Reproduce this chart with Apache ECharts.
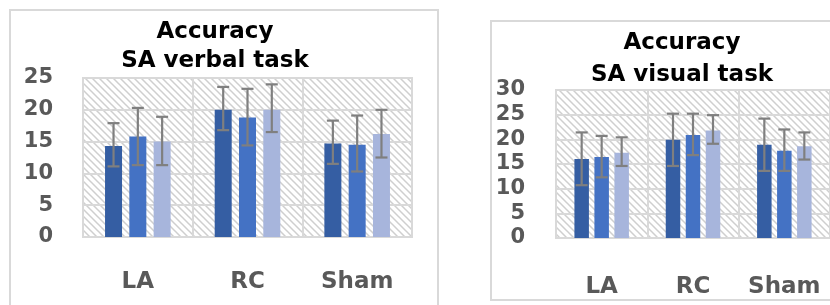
<!DOCTYPE html>
<html>
<head>
<meta charset="utf-8">
<script src="https://cdn.jsdelivr.net/npm/echarts@6/dist/echarts.min.js"></script>
<style>
  html, body { margin: 0; padding: 0; background: #fff; }
  #main { width: 830px; height: 305px; }
</style>
</head>
<body>
<div id="main"></div>
<script>
// categories and values
const categories = ['LA', 'RC', 'Sham'];
const seriesNames = ['Group 1', 'Group 2', 'Group 3'];

// SA verbal task
const verbalMean = [[14.3, 20.0, 14.7], [15.8, 18.8, 14.5], [15.0, 20.0, 16.2]];
const verbalLow  = [[11.1, 16.8, 11.5], [11.3, 14.4, 10.3], [11.3, 16.5, 12.5]];
const verbalHigh = [[17.9, 23.6, 18.3], [20.3, 23.3, 19.1], [18.9, 24.0, 20.0]];
const verbalTicks = { max: 25, interval: 5 };

// SA visual task
const visualMean = [[16.0, 19.9, 18.9], [16.4, 20.9, 17.7], [17.3, 21.8, 18.6]];
const visualLow  = [[10.7, 14.6, 13.6], [12.3, 16.8, 13.6], [14.6, 19.1, 15.9]];
const visualHigh = [[21.4, 25.2, 24.2], [20.7, 25.2, 22.0], [20.4, 24.9, 21.4]];
const visualTicks = { max: 30, interval: 5 };

const colors = ['#355EA3', '#4472C4', '#A7B5DC'];
const gridColor = '#d9d9d9';
const labelColor = '#595959';

// diagonal hatch used as plot background
function makeHatch() {
    const s = 7;
    const c = document.createElement('canvas');
    c.width = s; c.height = s;
    const ctx = c.getContext('2d');
    ctx.fillStyle = '#ffffff';
    ctx.fillRect(0, 0, s, s);
    ctx.strokeStyle = '#cfcfcf';
    ctx.lineWidth = 1.5;
    ctx.beginPath();
    ctx.moveTo(-1, -1); ctx.lineTo(s + 1, s + 1);
    ctx.moveTo(-1, s - 1); ctx.lineTo(1, s + 1);
    ctx.moveTo(s - 1, -1); ctx.lineTo(s + 1, 1);
    ctx.stroke();
    return c;
}
const hatch = { image: makeHatch(), repeat: 'repeat' };

const panels = [
    { title: 'Accuracy\nSA verbal task', titleX: 210, titleTop: 13, lineH: 29,
      grid: { left: 83, top: 78, width: 329, height: 159 },
      ticks: verbalTicks, mean: verbalMean, low: verbalLow, high: verbalHigh,
      barWidth: 17, step: 24.3, yFont: 21, yMargin: 30, xMargin: 34 },
    { title: 'Accuracy\nSA visual task', titleX: 677, titleTop: 22, lineH: 32,
      grid: { left: 556, top: 90, width: 276, height: 148 },
      ticks: visualTicks, mean: visualMean, low: visualLow, high: visualHigh,
      barWidth: 14.5, step: 20, yFont: 21, yMargin: 31, xMargin: 38 }
];

const option = {
    animation: false,
    backgroundColor: '#fff',
    title: [],
    grid: [],
    xAxis: [],
    yAxis: [],
    series: [],
    graphic: [
        { type: 'rect', shape: { x: 10, y: 10, width: 428, height: 310 },
          style: { fill: 'none', stroke: gridColor, lineWidth: 2 }, z: -10 },
        { type: 'rect', shape: { x: 491, y: 21, width: 360, height: 279 },
          style: { fill: 'none', stroke: gridColor, lineWidth: 2 }, z: -10 }
    ]
};

panels.forEach((p, gi) => {
    option.title.push({
        text: p.title, left: p.titleX, top: p.titleTop, textAlign: 'center',
        textStyle: { fontFamily: 'DejaVu Sans', fontWeight: 'bold', fontSize: 23,
                     lineHeight: p.lineH, color: '#000' }
    });
    option.grid.push(Object.assign({
        show: true, backgroundColor: hatch, borderColor: gridColor, borderWidth: 2
    }, p.grid));
    option.xAxis.push({
        type: 'category', gridIndex: gi, data: categories,
        axisLine: { show: false }, axisTick: { show: false },
        splitLine: { show: true, interval: 0, lineStyle: { color: gridColor, width: 2 } },
        axisLabel: { interval: 0, margin: p.xMargin, color: labelColor, fontFamily: 'DejaVu Sans',
                     fontWeight: 'bold', fontSize: 23 }
    });
    option.yAxis.push({
        type: 'value', gridIndex: gi, min: 0, max: p.ticks.max, interval: p.ticks.interval,
        axisLine: { show: false }, axisTick: { show: false },
        splitLine: { lineStyle: { color: gridColor, width: 2 } },
        axisLabel: { margin: p.yMargin, color: labelColor, fontFamily: 'DejaVu Sans',
                     fontWeight: 'bold', fontSize: p.yFont }
    });
    const gap = (p.step - p.barWidth) / p.barWidth * 100 + '%';
    p.mean.forEach((vals, si) => {
        option.series.push({
            type: 'bar', name: seriesNames[si], xAxisIndex: gi, yAxisIndex: gi,
            data: vals, barWidth: p.barWidth, barGap: gap,
            itemStyle: { color: colors[si] }, z: 2
        });
    });
    p.mean.forEach((vals, si) => {
        const offset = (si - 1) * p.step;
        option.series.push({
            type: 'custom', xAxisIndex: gi, yAxisIndex: gi, z: 5,
            data: vals.map((v, ci) => [ci, p.low[si][ci], p.high[si][ci]]),
            renderItem: (params, api) => {
                const lo = api.coord([api.value(0), api.value(1)]);
                const hi = api.coord([api.value(0), api.value(2)]);
                const x = lo[0] + offset;
                const half = 6;
                const st = { stroke: '#7f7f7f', lineWidth: 2.2 };
                return {
                    type: 'group',
                    children: [
                        { type: 'line', shape: { x1: x, y1: lo[1], x2: x, y2: hi[1] }, style: st },
                        { type: 'line', shape: { x1: x - half, y1: hi[1], x2: x + half, y2: hi[1] }, style: st },
                        { type: 'line', shape: { x1: x - half, y1: lo[1], x2: x + half, y2: lo[1] }, style: st }
                    ]
                };
            }
        });
    });
});

const chart = echarts.init(document.getElementById('main'), null, { renderer: 'canvas' });
chart.setOption(option);
</script>
</body>
</html>
